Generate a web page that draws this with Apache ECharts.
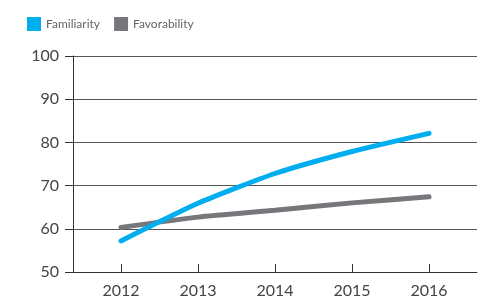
<!DOCTYPE html>
<html>
<head>
<meta charset="utf-8">
<script src="https://cdn.jsdelivr.net/npm/echarts@6/dist/echarts.min.js"></script>
<style>
  html, body { margin: 0; padding: 0; background: #fff; }
  #main { width: 484px; height: 300px; }
</style>
</head>
<body>
<div id="main"></div>
<script>
// data
var years = [2012, 2013, 2014, 2015, 2016];
var familiarity = [57.2, 65.9, 72.8, 77.9, 82.1];
var favorability = [60.3, 62.7, 64.3, 66.0, 67.4];
var yTicks = [50, 60, 70, 80, 90, 100];

function pairs(vals) {
    var arr = [];
    for (var i = 0; i < years.length; i++) {
        arr.push([years[i], vals[i]]);
    }
    return arr;
}

var myChart = echarts.init(document.getElementById('main'));
var font = 'Lato, "Noto Sans", sans-serif';
var option = {
    animation: false,
    textStyle: { fontFamily: font },
    legend: {
        left: 22,
        top: 12,
        itemWidth: 14,
        itemHeight: 14,
        itemGap: 14,
        icon: 'rect',
        textStyle: { fontSize: 12, color: '#666', fontFamily: font },
        data: ['Familiarity', 'Favorability']
    },
    grid: { left: 73, right: 7, top: 56, bottom: 28 },
    xAxis: {
        type: 'value',
        min: 2011.377,
        max: 2016.623,
        axisLine: { show: true, lineStyle: { color: '#333', width: 1 } },
        axisTick: { show: true, inside: true, length: 8, customValues: years, lineStyle: { color: '#333' } },
        axisLabel: {
            customValues: years,
            color: '#444',
            fontSize: 16,
            margin: 11,
            formatter: function (v) { return String(v); }
        },
        splitLine: { show: false }
    },
    yAxis: {
        type: 'value',
        min: yTicks[0],
        max: yTicks[yTicks.length - 1],
        interval: 10,
        axisLine: { show: true, lineStyle: { color: '#333', width: 1 } },
        axisTick: { show: true, length: 8, lineStyle: { color: '#333' } },
        axisLabel: { color: '#444', fontSize: 16, margin: 14 },
        splitLine: { show: true, lineStyle: { color: '#555', width: 1 } }
    },
    series: [
        {
            name: 'Familiarity',
            type: 'line',
            data: pairs(familiarity),
            smooth: 0.2,
            showSymbol: false,
            color: '#00AEEF',
            lineStyle: { width: 5, color: '#00AEEF', cap: 'round' },
            z: 3
        },
        {
            name: 'Favorability',
            type: 'line',
            data: pairs(favorability),
            smooth: 0.2,
            showSymbol: false,
            color: '#77777B',
            lineStyle: { width: 5, color: '#77777B', cap: 'round' },
            z: 2
        }
    ]
};
myChart.setOption(option);
</script>
</body>
</html>
